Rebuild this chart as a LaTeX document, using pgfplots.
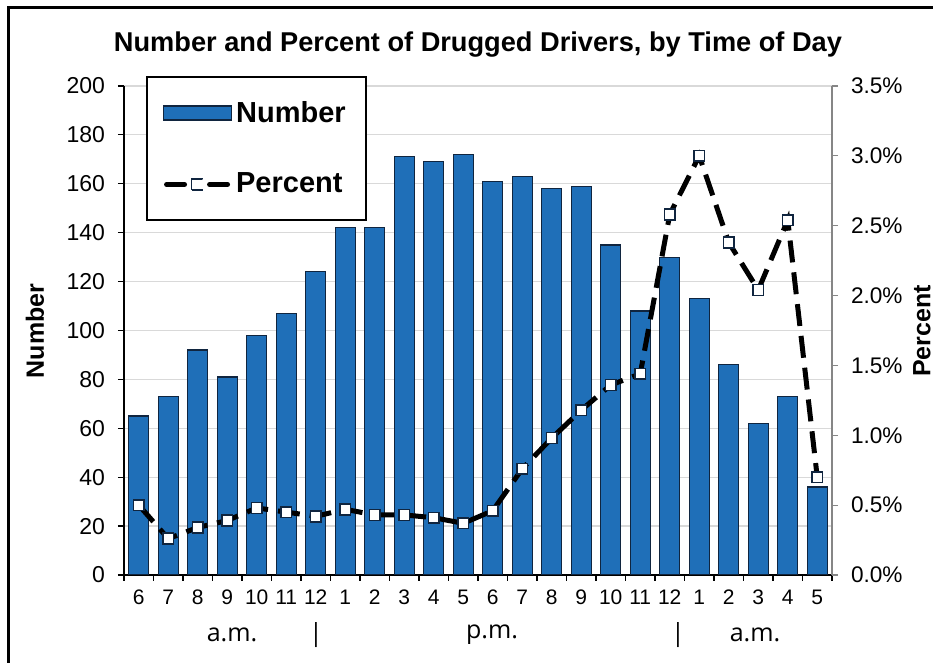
\documentclass[border=0pt]{standalone}
\usepackage{fontspec}
\setmainfont{Liberation Sans}
\newfontfamily\osfont{Open Sans}
\usepackage{pgfplots}
\usepackage{pgfplotstable}
\pgfplotsset{compat=1.18}

\definecolor{barblue}{HTML}{1F6FB8}
\definecolor{bardark}{HTML}{10253F}
\definecolor{gridgray}{HTML}{D9D9D9}
\definecolor{axgray}{HTML}{868686}

% hour index, number of drugged drivers, percent
\pgfplotstableread{
x  num  pct
0  65   0.50
1  73   0.26
2  92   0.34
3  81   0.39
4  98   0.48
5  107  0.45
6  124  0.42
7  142  0.47
8  142  0.43
9  171  0.43
10 169  0.41
11 172  0.37
12 161  0.46
13 163  0.76
14 158  0.98
15 159  1.18
16 135  1.36
17 108  1.44
18 130  2.58
19 113  3.00
20 86   2.38
21 62   2.04
22 73   2.54
23 36   0.70
}\drivers

\begin{document}
\begin{tikzpicture}
\useasboundingbox (0,0) rectangle (466.5pt,331.5pt);
\draw[line width=1.5pt] (4pt,0) -- (4pt,327.5pt) -- (466.5pt,327.5pt);

\node[font=\fontsize{13.6}{16}\selectfont\bfseries] at (239pt,309pt)
  {Number and Percent of Drugged Drivers, by Time of Day};

\begin{axis}[
  at={(62pt,44pt)}, anchor=south west, scale only axis,
  width=354pt, height=244.5pt,
  xmin=-0.5, xmax=23.5, ymin=0, ymax=200,
  axis x line*=bottom, axis y line*=left,
  axis line style={-, black, line width=0.6pt},
  xtick={-0.5,0.5,...,23.5}, x tick label as interval,
  xticklabels={6,7,8,9,10,11,12,1,2,3,4,5,6,7,8,9,10,11,12,1,2,3,4,5},
  ytick={0,20,...,200},
  ymajorgrids, grid style={gridgray, line width=0.6pt},
  tick align=outside, major tick length=3pt,
  tick style={black, line width=0.6pt},
  xticklabel style={font=\fontsize{10.5}{12}\selectfont, yshift=-1pt},
  yticklabel style={font=\fontsize{11.5}{13}\selectfont, xshift=-3pt},
  /pgf/number format/assume math mode=true,
]
\addplot[ybar, bar width=10pt, fill=barblue, draw=bardark, line width=0.6pt]
  table[x=x, y=num] {\drivers};
\end{axis}

\begin{axis}[
  at={(62pt,44pt)}, anchor=south west, scale only axis,
  width=354pt, height=244.5pt,
  xmin=-0.5, xmax=23.5, ymin=0, ymax=3.5,
  axis x line=none, axis y line*=right,
  y axis line style={-, axgray, line width=0.6pt},
  ytick={0,0.5,...,3.5},
  tick align=outside, major tick length=3pt,
  ytick style={axgray, line width=0.6pt},
  yticklabel={\pgfmathprintnumber[fixed,fixed zerofill,precision=1,assume math mode=true]{\tick}\%},
  yticklabel style={font=\fontsize{11.3}{13}\selectfont, xshift=3pt},
  legend style={at={(0.031,1.0204)}, anchor=north west, draw=black, line width=1pt,
    font=\fontsize{14.5}{17}\selectfont\bfseries, row sep=20pt,
    inner xsep=8pt, inner ysep=10pt,
    /tikz/every even column/.append style={column sep=1pt}},
  legend cell align=left,
]
\addlegendimage{legend image code/.code={
  \draw[fill=barblue, draw=bardark, line width=0.6pt] (0pt,-3.5pt) rectangle (34pt,3.5pt);}}
\addlegendentry{Number}
\addplot[black, line width=2.5pt, dash pattern=on 11pt off 5pt,
  mark=square*, mark size=2.7pt,
  mark options={solid, fill=white, draw=bardark, line width=0.8pt},
  legend image code/.code={
    \draw[black, line width=2.5pt, line cap=round] (1.5pt,0pt) -- (10.5pt,0pt);
    \draw[black, line width=2.5pt, line cap=round] (23pt,0pt) -- (32pt,0pt);
    \draw[fill=white, draw=bardark, line width=0.8pt] (14pt,-2.75pt) rectangle (19.5pt,2.75pt);}]
  table[x=x, y=pct] {\drivers};
\addlegendentry{Percent}
\end{axis}

\node[rotate=90, font=\fontsize{12.5}{15}\selectfont\bfseries] at (17.5pt,166pt) {Number};
\node[rotate=90, font=\fontsize{12.5}{15}\selectfont\bfseries] at (461pt,166pt) {Percent};

\begin{scope}[every node/.style={font=\osfont\fontsize{12.5}{15}\selectfont}]
\node at (116pt,14pt) {a.m.};
\node at (158pt,14pt) {|};
\node at (246pt,14pt) {p.m.};
\node at (339pt,14pt) {|};
\node at (377.5pt,14pt) {a.m.};
\end{scope}
\end{tikzpicture}
\end{document}
